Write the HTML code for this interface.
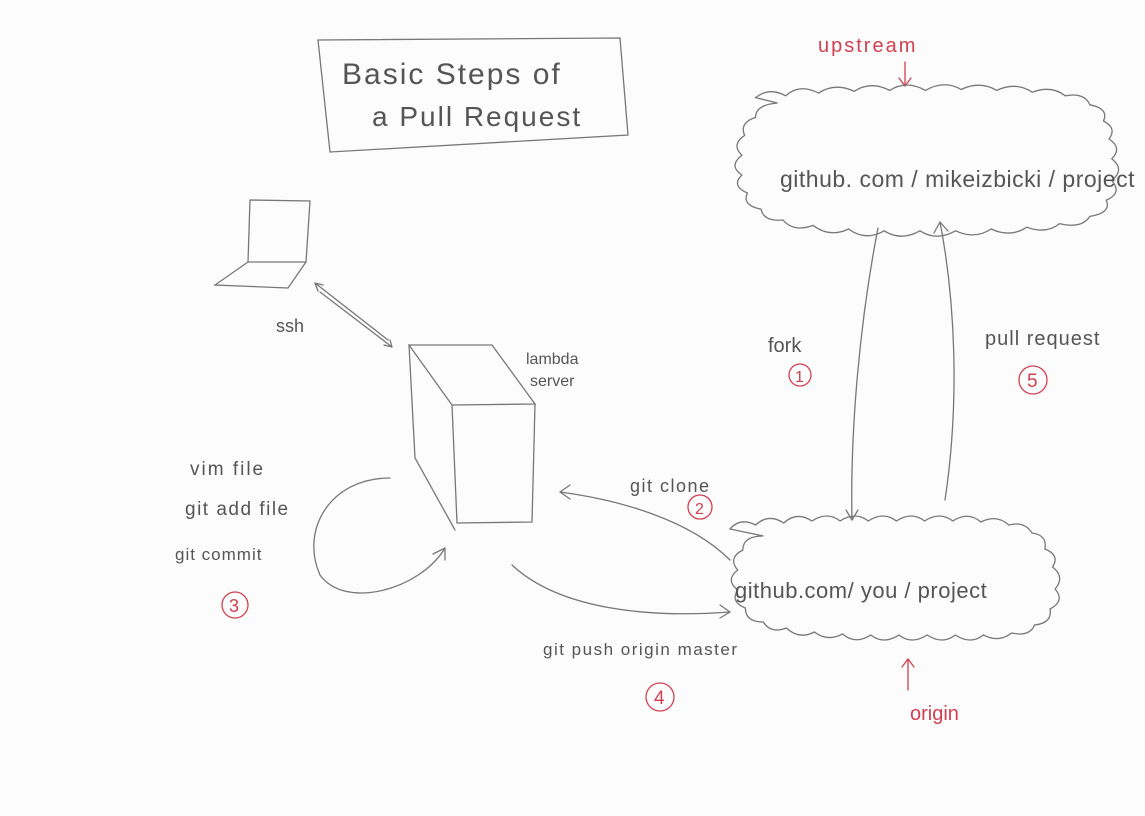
<!DOCTYPE html>
<html><head><meta charset="utf-8"><style>
body{margin:0;background:#fff;}
svg{display:block}
text{font-family:"Liberation Sans",sans-serif;fill:#555;font-weight:300}
.r{fill:#d04050}
</style></head><body>
<svg width="1145" height="816" viewBox="0 0 1145 816" xmlns="http://www.w3.org/2000/svg">
<rect width="1145" height="816" fill="#fcfcfc"/>
<g fill="none" stroke="#777" stroke-width="1.3" stroke-linecap="round">
<path d="M318 40 L620 38 L628 135 L330 152 Z"/>
<path d="M250 200 L310 201 L306 262 L248 262 Z"/>
<path d="M248 262 L215 285 L288 288 L306 262"/>
<path d="M315 283 L388 340 M320 292 L392 347 M315 283 l3 8 M315 283 l8 2 M392 347 l-8 -2 M392 347 l-2 -7"/>
<path d="M409 345 L492 345 L535 404 L452 405 Z"/>
<path d="M409 345 L415 458 L455 530"/>
<path d="M452 405 L457 523 L532 522 L535 404"/>
<path d="M390 478 C330 478 300 530 320 575 C345 610 420 590 445 548"/>
<path d="M445 548 l-12 6 M445 548 l0 12"/>
<path d="M730 560 C690 520 620 500 560 492"/>
<path d="M560 492 l10 -7 M560 492 l10 7"/>
<path d="M512 565 C560 610 650 618 730 612"/>
<path d="M730 612 l-10 -7 M730 612 l-10 6"/>
<path d="M878 228 C860 320 850 430 852 520"/>
<path d="M852 520 l-6 -10 M852 520 l6 -10"/>
<path d="M945 500 C960 400 955 300 940 222"/>
<path d="M940 222 l-6 11 M940 222 l8 9"/>
<path stroke="#d04050" d="M905 62 L905 85 M899 78 l6 8 l6 -8"/>
<path stroke="#d04050" d="M908 690 L908 660 M902 667 l6 -8 l6 8"/>
<g transform="translate(735,85) scale(1.37,0.9) translate(-745,-86)">
<path vector-effect="non-scaling-stroke" d="M760 100 q10 -12 22 -2 q10 -14 24 -3 q12 -12 26 -2 q12 -12 26 -1 q12 -12 26 0 q14 -12 26 -1 q14 -10 26 1 q14 -10 26 2 q14 -8 24 4 q14 -4 18 10 q14 4 10 18 q10 8 4 20 q10 10 2 22 q10 12 0 24 q8 14 -4 22 q4 14 -12 18 q-6 14 -22 8 q-10 12 -24 4 q-12 12 -26 2 q-12 12 -26 2 q-14 12 -26 0 q-14 12 -26 0 q-14 12 -26 -2 q-14 10 -26 -4 q-14 8 -22 -6 q-14 2 -16 -12 q-14 -4 -10 -18 q-12 -8 -4 -20 q-10 -10 0 -22 q-8 -12 2 -22 q-4 -14 8 -20 q0 -14 16 -16 z"/>
</g>
<g transform="translate(730,515) scale(1.28,1) translate(-755,-521)">
<path vector-effect="non-scaling-stroke" d="M755 535 q8 -12 20 -4 q10 -12 22 -2 q10 -12 22 -2 q12 -10 22 0 q12 -10 22 0 q12 -10 22 0 q12 -10 22 0 q12 -10 22 0 q12 -10 22 1 q12 -8 22 3 q12 -4 18 8 q12 2 10 16 q12 6 6 18 q10 10 2 22 q8 12 -4 20 q2 14 -12 16 q-4 12 -18 8 q-10 10 -22 2 q-10 10 -22 0 q-10 10 -22 0 q-12 10 -22 0 q-12 10 -22 0 q-12 10 -22 -1 q-12 8 -22 -2 q-12 8 -22 -4 q-12 6 -18 -6 q-14 0 -14 -14 q-12 -6 -6 -18 q-10 -10 0 -20 q-8 -12 4 -20 q0 -14 16 -14 z"/>
</g>
<g stroke="#d04050">
<circle cx="800" cy="375" r="11"/>
<circle cx="700" cy="507" r="12"/>
<circle cx="235" cy="605" r="13"/>
<circle cx="660" cy="697" r="14"/>
<circle cx="1033" cy="380" r="14"/>
</g>
</g>
<text x="342" y="84" font-size="30" letter-spacing="2">Basic  Steps  of</text>
<text x="372" y="126" font-size="28" letter-spacing="2">a   Pull  Request</text>
<text x="818" y="52" font-size="20" class="r" letter-spacing="2">upstream</text>
<text x="780" y="187" font-size="23" letter-spacing="0.5">github. com / mikeizbicki / project</text>
<text x="276" y="332" font-size="18">ssh</text>
<text x="526" y="364" font-size="16">lambda</text>
<text x="530" y="386" font-size="16">server</text>
<text x="190" y="475" font-size="19" letter-spacing="2">vim  file</text>
<text x="185" y="515" font-size="19" letter-spacing="1.5">git add file</text>
<text x="175" y="560" font-size="17" letter-spacing="1">git  commit</text>
<text x="630" y="492" font-size="18" letter-spacing="1.5">git  clone</text>
<text x="768" y="352" font-size="20">fork</text>
<text x="985" y="345" font-size="20" letter-spacing="1">pull request</text>
<text x="735" y="598" font-size="22" letter-spacing="0.5">github.com/ you / project</text>
<text x="543" y="655" font-size="17" letter-spacing="1.5">git  push  origin  master</text>
<text x="910" y="720" font-size="20" class="r">origin</text>
<text x="795" y="382" font-size="16" class="r">1</text>
<text x="695" y="514" font-size="16" class="r">2</text>
<text x="229" y="612" font-size="18" class="r">3</text>
<text x="654" y="704" font-size="19" class="r">4</text>
<text x="1027" y="387" font-size="19" class="r">5</text>
</svg>
</body></html>
